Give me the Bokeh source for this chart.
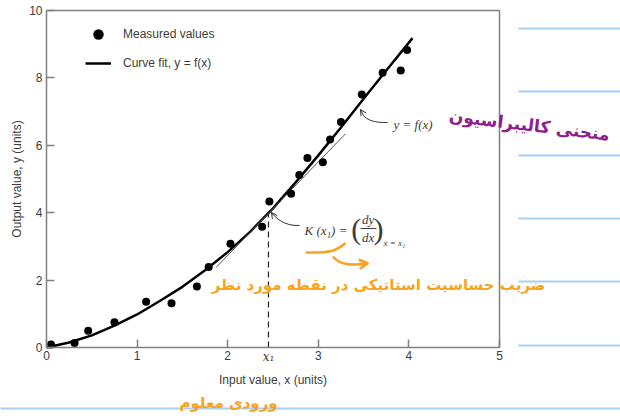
from bokeh.plotting import figure
from bokeh.models import Range1d, FixedTicker, Legend, LegendItem, Label, Arrow, OpenHead, LinearAxis
from bokeh.embed import file_html
from bokeh.resources import INLINE

# ---- data ----
meas_x = [0.05, 0.31, 0.46, 0.75, 1.10, 1.38, 1.66, 1.79, 2.03, 2.38, 2.46,
          2.70, 2.79, 2.88, 3.05, 3.13, 3.25, 3.48, 3.71, 3.91, 3.98]
meas_y = [0.09, 0.13, 0.50, 0.75, 1.36, 1.31, 1.81, 2.39, 3.08, 3.58, 4.33,
          4.56, 5.12, 5.62, 5.50, 6.17, 6.69, 7.51, 8.15, 8.22, 8.83]
curve_x = [0.0, 0.25, 0.5, 0.75, 1.0, 1.25, 1.5, 1.75, 2.0, 2.25, 2.5, 2.75,
           3.0, 3.25, 3.5, 3.75, 4.04]
curve_y = [0.0, 0.15, 0.36, 0.65, 0.98, 1.38, 1.80, 2.29, 2.83, 3.44, 4.13, 4.90,
           5.70, 6.53, 7.38, 8.22, 9.18]
tangent_x = [1.87, 3.30]
tangent_y = [2.37, 6.34]
x1_val = 2.45
y1_val = 4.02
x_ticks = [0, 1, 2, 3, 4, 5]
y_ticks = [0, 2, 4, 6, 8, 10]
x_min, x_max = 0, 5
y_min, y_max = 0, 10

GRAY = "#808080"
TXT = "#3c3c3c"
ORANGE = "#F7A31C"
PURPLE = "#8E1E8C"
BLUE = "#A8D0F5"

# frame covers the whole page; the data box sits inside it (x 0..5 -> px 46..499, y 0..10 -> px 347..10)
p = figure(width=620, height=419,
           x_range=Range1d(-46 / 90.6, 574 / 90.6), y_range=Range1d(-72 / 33.7, 347 / 33.7),
           output_backend="svg", toolbar_location=None,
           x_axis_location=None, y_axis_location=None, min_border=0)
p.background_fill_color = "white"
p.border_fill_color = "white"
p.outline_line_color = None

xaxis = LinearAxis(fixed_location=0, bounds=(x_min, x_max), ticker=FixedTicker(ticks=x_ticks),
                   axis_label="Input value, x (units)")
yaxis = LinearAxis(fixed_location=0, bounds=(y_min, y_max), ticker=FixedTicker(ticks=y_ticks),
                   axis_label="Output value, y (units)")
for ax in (xaxis, yaxis):
    ax.axis_line_color = GRAY
    ax.axis_line_width = 1.5
    ax.major_tick_line_color = GRAY
    ax.major_tick_line_width = 1.5
    ax.major_tick_in = 8
    ax.major_tick_out = 0
    ax.minor_tick_line_color = None
    ax.major_label_text_font = "Liberation Sans"
    ax.major_label_text_font_size = "12px"
    ax.major_label_text_color = TXT
    ax.axis_label_text_font = "Liberation Sans"
    ax.axis_label_text_font_size = "12px"
    ax.axis_label_text_font_style = "normal"
    ax.axis_label_text_color = TXT
xaxis.major_label_standoff = 3
yaxis.major_label_standoff = 4
xaxis.axis_label_standoff = 10
yaxis.axis_label_standoff = 2
p.add_layout(xaxis, "below")
p.add_layout(yaxis, "left")
p.grid.visible = False

# top and right edges of the box
p.line([x_min, x_max, x_max], [y_max, y_max, y_min], line_color=GRAY, line_width=1.5)

# ---- notebook lines (decoration) ----
note_y = [9.466, 7.596, 5.697, 3.828, 1.958, 0.059]
p.segment(x0=[5.21] * len(note_y), y0=note_y, x1=[6.5] * len(note_y), y1=note_y,
          line_color=BLUE, line_width=2)
p.segment(x0=[-0.6], y0=[-1.81], x1=[6.5], y1=[-1.81], line_color=BLUE, line_width=2)

# ---- glyphs ----
r_line = p.line(curve_x, curve_y, line_width=2.5, line_color="black")
p.line(tangent_x, tangent_y, line_width=1, line_color="#555555")
p.line([x1_val, x1_val], [0, y1_val], line_width=1.2, line_color="#222222", line_dash="6 4")
r_pts = p.scatter(meas_x, meas_y, size=8, fill_color="black", line_color=None)

legend = Legend(items=[LegendItem(label="Measured values", renderers=[r_pts]),
                       LegendItem(label="Curve fit, y = f(x)", renderers=[r_line])],
                location=(85, 343), border_line_color=None, background_fill_alpha=0,
                glyph_width=26, glyph_height=26, label_height=26, spacing=3, padding=10,
                label_standoff=12, label_text_font="Liberation Sans",
                label_text_font_size="12px", label_text_color=TXT, margin=0)
p.add_layout(legend)

# x1 tick label
p.add_layout(Label(x=x1_val, y=-0.28, text="x₁", text_font="DejaVu Serif",
                   text_font_style="italic", text_font_size="12px", text_color=TXT,
                   text_align="center", text_baseline="middle"))

# annotation y = f(x)
p.bezier(x0=[3.764], y0=[6.677], x1=[3.466], y1=[7.062], cx0=[3.52], cy0=[6.66],
         cx1=[3.49], cy1=[6.90], line_color="#333333", line_width=1)
p.add_layout(Arrow(end=OpenHead(size=6, line_color="#333333", line_width=1),
                   x_start=3.48, y_start=7.00, x_end=3.466, y_end=7.062,
                   line_color="#333333", line_width=1))
p.add_layout(Label(x=3.83, y=6.617, text="y = f(x)", text_font="Liberation Serif",
                   text_font_style="italic", text_font_size="13px", text_color=TXT,
                   text_baseline="middle"))

# annotation K(x1)
p.bezier(x0=[2.793], y0=[3.620], x1=[2.483], y1=[4.006], cx0=[2.62], cy0=[3.60],
         cx1=[2.53], cy1=[3.85], line_color="#333333", line_width=1)
p.add_layout(Arrow(end=OpenHead(size=6, line_color="#333333", line_width=1),
                   x_start=2.50, y_start=3.94, x_end=2.483, y_end=4.006,
                   line_color="#333333", line_width=1))
p.add_layout(Label(x=2.848, y=3.47, text="K (x₁) =", text_font="Liberation Serif",
                   text_font_style="italic", text_font_size="13px", text_color=TXT,
                   text_baseline="middle"))
p.add_layout(Label(x=3.42, y=3.53, text="(", text_font="Liberation Serif",
                   text_font_size="30px", text_color=TXT, text_align="center",
                   text_baseline="middle"))
p.add_layout(Label(x=3.664, y=3.53, text=")", text_font="Liberation Serif",
                   text_font_size="30px", text_color=TXT, text_align="center",
                   text_baseline="middle"))
p.add_layout(Label(x=3.549, y=3.80, text="dy", text_font="Liberation Serif",
                   text_font_style="italic", text_font_size="13px", text_color=TXT,
                   text_align="center", text_baseline="middle"))
p.add_layout(Label(x=3.549, y=3.27, text="dx", text_font="Liberation Serif",
                   text_font_style="italic", text_font_size="13px", text_color=TXT,
                   text_align="center", text_baseline="middle"))
p.line([3.466, 3.642], [3.53, 3.53], line_color=TXT, line_width=1)
p.add_layout(Label(x=3.72, y=3.10, text="x = x₁", text_font="Liberation Serif",
                   text_font_style="italic", text_font_size="9px", text_color=TXT,
                   text_baseline="middle"))

# ---- handwritten notes ----
p.add_layout(Label(x=3.664, y=1.84, text="ضریب حساسیت استاتیکی در نقطه مورد نظر",
                   text_font="DejaVu Sans", text_font_size="15px", text_font_style="bold",
                   text_color=ORANGE, text_align="center", text_baseline="middle"))
p.add_layout(Label(x=2.009, y=-1.66, text="ورودی معلوم",
                   text_font="DejaVu Sans", text_font_size="15px", text_font_style="bold",
                   text_color=ORANGE, text_align="center", text_baseline="middle"))
p.bezier(x0=[2.86], y0=[2.82], x1=[3.30], y1=[3.10], cx0=[3.1], cy0=[2.80],
         cx1=[3.2], cy1=[2.85], line_color=ORANGE, line_width=2.5)
p.bezier(x0=[3.16], y0=[2.70], x1=[3.55], y1=[2.50], cx0=[3.25], cy0=[2.40],
         cx1=[3.40], cy1=[2.45], line_color=ORANGE, line_width=2.5)
p.add_layout(Arrow(end=OpenHead(size=9, line_color=ORANGE, line_width=2.5),
                   x_start=3.45, y_start=2.47, x_end=3.55, y_end=2.50,
                   line_color=ORANGE, line_width=2.5))
p.add_layout(Label(x=5.33, y=6.60, text="منحنی کالیبراسیون", angle=-0.12,
                   text_font="DejaVu Sans", text_font_size="17px", text_font_style="bold",
                   text_color=PURPLE, text_align="center", text_baseline="middle"))

open("out.html", "w").write(file_html(p, INLINE))
